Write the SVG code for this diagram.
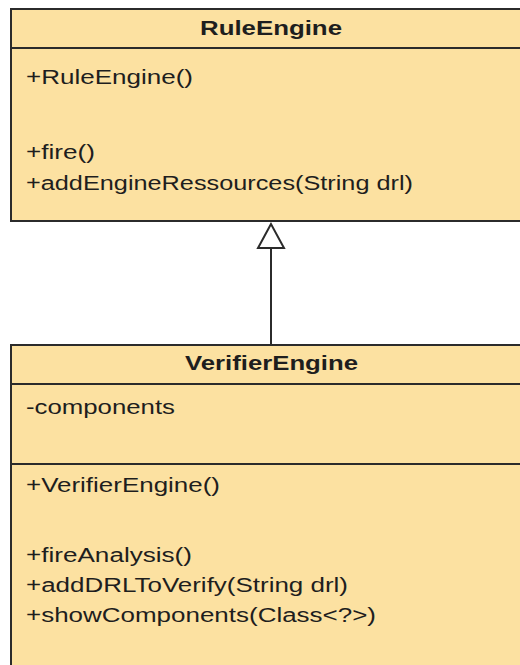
<svg xmlns="http://www.w3.org/2000/svg" width="520" height="665" viewBox="0 0 520 665">
  <style>
    .box { fill: #FCE1A1; stroke: #2b2b2b; stroke-width: 2; }
    .sep { stroke: #2b2b2b; stroke-width: 2; }
    .title { font-family: "Liberation Sans", Arial, sans-serif; font-size: 20px; font-weight: bold; fill: #1e1e1e; text-anchor: middle; }
    .member { font-family: "Liberation Sans", Arial, sans-serif; font-size: 20px; fill: #1e1e1e; }
    .conn { stroke: #2b2b2b; stroke-width: 2; fill: none; }
    .head { fill: #ffffff; stroke: #2b2b2b; stroke-width: 2; stroke-linejoin: miter; }
  </style>
  <rect x="0" y="0" width="520" height="665" fill="#ffffff"/>
  <g id="RuleEngine">
    <rect class="box" x="11" y="9" width="530" height="212"/>
    <line class="sep" x1="11" y1="48" x2="541" y2="48"/>
    <text class="title" x="271" y="35" textLength="142" lengthAdjust="spacingAndGlyphs">RuleEngine</text>
    <text class="member" x="26" y="84" textLength="167" lengthAdjust="spacingAndGlyphs">+RuleEngine()</text>
    <text class="member" x="26" y="159" textLength="69" lengthAdjust="spacingAndGlyphs">+fire()</text>
    <text class="member" x="26" y="190" textLength="387" lengthAdjust="spacingAndGlyphs">+addEngineRessources(String drl)</text>
  </g>
  <g id="VerifierEngine">
    <rect class="box" x="11" y="345" width="530" height="330"/>
    <line class="sep" x1="11" y1="384" x2="541" y2="384"/>
    <line class="sep" x1="11" y1="464" x2="541" y2="464"/>
    <text class="title" x="271.5" y="370" textLength="173" lengthAdjust="spacingAndGlyphs">VerifierEngine</text>
    <text class="member" x="26" y="414" textLength="149" lengthAdjust="spacingAndGlyphs">-components</text>
    <text class="member" x="26" y="492" textLength="194" lengthAdjust="spacingAndGlyphs">+VerifierEngine()</text>
    <text class="member" x="26" y="562" textLength="166" lengthAdjust="spacingAndGlyphs">+fireAnalysis()</text>
    <text class="member" x="26" y="592" textLength="322" lengthAdjust="spacingAndGlyphs">+addDRLToVerify(String drl)</text>
    <text class="member" x="26" y="622" textLength="350" lengthAdjust="spacingAndGlyphs">+showComponents(Class&lt;?&gt;)</text>
  </g>
  <g id="connectors">
    <line class="conn" x1="271" y1="248" x2="271" y2="345"/>
    <polygon class="head" points="271,224 258,248 284,248"/>
  </g>
</svg>
